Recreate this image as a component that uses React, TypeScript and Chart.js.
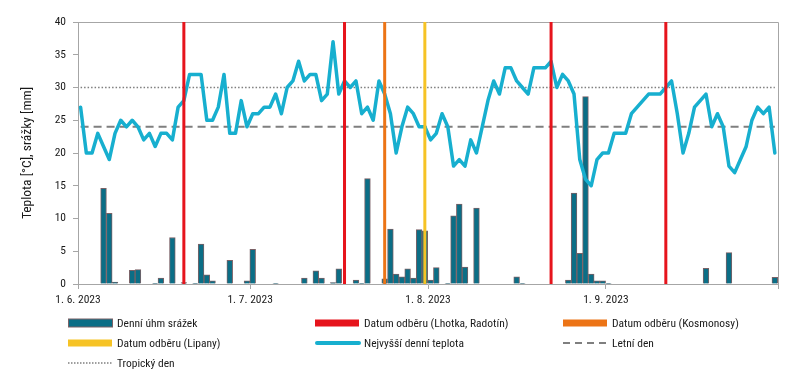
import React, { useEffect, useRef } from 'react';
import { Chart, registerables } from 'chart.js';

Chart.register(...registerables);

// ---------- data ----------
const START_DATE = '2023-06-01';

// Nejvyšší denní teplota [°C], 1. 6. – 30. 9. 2023
const dailyMaxTemp = [
  27, 20, 20, 23, 21, 19, 23, 25, 24, 25,
  24, 22, 23, 21, 23, 23, 22, 27, 28, 32,
  32, 32, 25, 25, 27, 32, 23, 23, 28, 24,
  26, 26, 27, 27, 29, 26, 30, 31, 34, 31,
  32, 32, 28, 29, 37, 29, 31, 30, 31, 26,
  27, 25, 31, 29, 26, 20, 24, 27, 26, 24,
  24, 22, 23, 26, 24, 18, 19, 18, 22, 20,
  24, 28, 31, 29, 33, 33, 31, 30, 29, 33,
  33, 33, 34, 30, 32, 31, 29, 19, 16, 15,
  19, 20, 20, 23, 23, 23, 26, 27, 28, 29,
  29, 29, 30, 31, 26, 20, 23, 27, 28, 29,
  24, 26, 24, 18, 17, 19, 21, 25, 27, 26,
  27, 20,
];

// Denní úhrn srážek [mm]
const dailyPrecip = [
  0, 0, 0, 0, 14.6, 10.8, 0.3, 0, 0, 2.1,
  2.2, 0, 0, 0.1, 0.9, 0, 7.1, 0, 0.2, 0,
  0.1, 6.1, 1.4, 0.5, 0, 0, 3.6, 0, 0, 0.5,
  5.3, 0, 0, 0, 0.1, 0, 0, 0, 0, 0.9,
  0, 2.0, 0.9, 0, 0.2, 2.3, 0, 0, 0.6, 0.1,
  16.1, 0, 0, 0.8, 8.4, 1.5, 1.1, 2.3, 0.9, 8.3,
  8.1, 0.6, 2.5, 0, 0.1, 10.4, 12.2, 2.6, 0, 11.6,
  0, 0, 0, 0, 0, 0, 1.1, 0.1, 0, 0,
  0, 0, 0, 0, 0, 0.6, 13.9, 4.7, 28.6, 1.5,
  0.5, 0.5, 0.1, 0, 0, 0, 0, 0, 0, 0,
  0, 0, 0, 0, 0, 0, 0, 0, 0, 2.4,
  0, 0, 0, 4.8, 0, 0, 0, 0, 0, 0,
  0, 1.0,
];

const samplingLhotkaRadotin = ['2023-06-19', '2023-07-17', '2023-08-22', '2023-09-11'];
const samplingKosmonosy = ['2023-07-24'];
const samplingLipany = ['2023-07-31'];

const summerDayLimit = 24;
const tropicalDayLimit = 30;

const xTickDays = [0, 30, 61, 92, 122];
const xTickLabels = ['1. 6. 2023', '1. 7. 2023', '1. 8. 2023', '1. 9. 2023', ''];

const Y_MIN = 0;
const Y_MAX = 40;
const Y_STEP = 5;

const LABELS = {
  precip: 'Denní úhm srážek',
  lhotka: 'Datum odběru (Lhotka, Radotín)',
  kosmonosy: 'Datum odběru (Kosmonosy)',
  lipany: 'Datum odběru (Lipany)',
  temp: 'Nejvyšší denní teplota',
  summer: 'Letní den',
  tropical: 'Tropický den',
};

// ---------- styles ----------
const FONT = "'Liberation Sans Narrow', 'Arial Narrow', 'Roboto Condensed', 'DejaVu Sans Condensed', sans-serif";
const C_BAR = '#0b6e86';
const C_BAR_BORDER = '#7a6166';
const C_RED = '#e6141c';
const C_ORANGE = '#ec7416';
const C_YELLOW = '#f6c325';
const C_TEMP = '#17afcf';
const C_GREY = '#7f7f7f';
const C_AXIS = '#a6a6a6';
const C_TEXT = '#1a1a1a';
const X_SHIFT = -0.45;

function dayIndex(iso: string): number {
  return Math.round((Date.parse(iso) - Date.parse(START_DATE)) / 86400000);
}

function verticalLines(dates: string[]) {
  const pts: any[] = [];
  dates.forEach((d) => {
    const k = dayIndex(d);
    pts.push({ x: k, y: Y_MIN }, { x: k, y: Y_MAX }, { x: k, y: null });
  });
  return pts;
}

const framePlugin = {
  id: 'frame',
  beforeDatasetsDraw(chart: any) {
    const { ctx, chartArea } = chart;
    const { left, top, right, bottom } = chartArea;
    ctx.save();
    ctx.strokeStyle = C_AXIS;
    ctx.lineWidth = 1;
    ctx.beginPath();
    ctx.moveTo(left, Math.round(top) + 0.5);
    ctx.lineTo(Math.round(right) + 0.5, Math.round(top) + 0.5);
    ctx.lineTo(Math.round(right) + 0.5, bottom);
    ctx.stroke();
    ctx.restore();
  },
};

function Swatch({ kind, color }: { kind: string; color: string }) {
  if (kind === 'bar') {
    return (
      <svg width={46} height={12} style={{ display: 'block' }}>
        <rect x={0.5} y={2} width={44} height={8} fill={color} stroke={C_BAR_BORDER} strokeWidth={1} />
      </svg>
    );
  }
  if (kind === 'rect') {
    return (
      <svg width={46} height={12} style={{ display: 'block' }}>
        <rect x={0} y={2.5} width={44} height={7} fill={color} />
      </svg>
    );
  }
  if (kind === 'line') {
    return (
      <svg width={46} height={12} style={{ display: 'block' }}>
        <line x1={2} y1={6} x2={44} y2={6} stroke={color} strokeWidth={4} strokeLinecap="round" />
      </svg>
    );
  }
  if (kind === 'dash') {
    return (
      <svg width={46} height={12} style={{ display: 'block' }}>
        <line x1={0} y1={6} x2={44} y2={6} stroke={color} strokeWidth={2} strokeDasharray="7 5" />
      </svg>
    );
  }
  return (
    <svg width={46} height={12} style={{ display: 'block' }}>
      <line x1={0} y1={6} x2={44} y2={6} stroke={color} strokeWidth={1.5} strokeDasharray="1.5 1.5" />
    </svg>
  );
}

const legendItems = [
  { label: LABELS.precip, kind: 'bar', color: C_BAR, col: 0, row: 0 },
  { label: LABELS.lhotka, kind: 'rect', color: C_RED, col: 1, row: 0 },
  { label: LABELS.kosmonosy, kind: 'rect', color: C_ORANGE, col: 2, row: 0 },
  { label: LABELS.lipany, kind: 'rect', color: C_YELLOW, col: 0, row: 1 },
  { label: LABELS.temp, kind: 'line', color: C_TEMP, col: 1, row: 1 },
  { label: LABELS.summer, kind: 'dash', color: C_GREY, col: 2, row: 1 },
  { label: LABELS.tropical, kind: 'dot', color: C_GREY, col: 0, row: 2 },
];
const LEGEND_COL_X = [68, 315, 563];
const LEGEND_ROW_Y = [323, 343, 363];

export default function App() {
  const ref = useRef<HTMLCanvasElement>(null);

  useEffect(() => {
    if (!ref.current) return;
    const lastDay = dailyMaxTemp.length - 1;
    const chart = new Chart(ref.current, {
      type: 'bar',
      data: {
        datasets: [
          {
            type: 'line',
            label: LABELS.lhotka,
            data: verticalLines(samplingLhotkaRadotin),
            borderColor: C_RED,
            borderWidth: 3,
            pointRadius: 0,
            spanGaps: false,
            order: 1,
          } as any,
          {
            type: 'line',
            label: LABELS.kosmonosy,
            data: verticalLines(samplingKosmonosy),
            borderColor: C_ORANGE,
            borderWidth: 3,
            pointRadius: 0,
            spanGaps: false,
            order: 1,
          },
          {
            type: 'line',
            label: LABELS.lipany,
            data: verticalLines(samplingLipany),
            borderColor: C_YELLOW,
            borderWidth: 3,
            pointRadius: 0,
            spanGaps: false,
            order: 1,
          },
          {
            type: 'line',
            label: LABELS.temp,
            data: dailyMaxTemp.map((v, i) => ({ x: i, y: v })),
            borderColor: C_TEMP,
            borderWidth: 3.5,
            borderJoinStyle: 'round',
            borderCapStyle: 'round',
            pointRadius: 0,
            tension: 0,
            order: 5,
          },
          {
            type: 'line',
            label: LABELS.summer,
            data: [
              { x: 0, y: summerDayLimit },
              { x: lastDay, y: summerDayLimit },
            ],
            borderColor: C_GREY,
            borderWidth: 2,
            borderDash: [8, 5],
            pointRadius: 0,
            order: 8,
          },
          {
            type: 'line',
            label: LABELS.tropical,
            data: [
              { x: 0, y: tropicalDayLimit },
              { x: lastDay, y: tropicalDayLimit },
            ],
            borderColor: C_GREY,
            borderWidth: 1.5,
            borderDash: [1.5, 2],
            pointRadius: 0,
            order: 8,
          },
          {
            type: 'bar',
            label: LABELS.precip,
            data: dailyPrecip.map((v, i) => ({ x: i, y: v > 0 ? v : null })),
            backgroundColor: C_BAR,
            borderColor: C_BAR_BORDER,
            borderWidth: 1,
            borderSkipped: 'bottom',
            barPercentage: 1,
            categoryPercentage: 1,
            order: 10,
          },
        ] as any,
      },
      options: {
        responsive: false,
        animation: false,
        events: [],
        layout: { padding: { left: 0, right: 22, top: 22, bottom: 0 } },
        plugins: {
          legend: { display: false },
          tooltip: { enabled: false },
        },
        scales: {
          x: {
            type: 'linear',
            offset: false,
            min: X_SHIFT,
            max: 122 + X_SHIFT,
            afterBuildTicks: (scale: any) => {
              scale.ticks = xTickDays.map((d) => ({ value: d + X_SHIFT }));
            },
            afterFit: (scale: any) => {
              scale.height = 104;
            },
            ticks: {
              autoSkip: false,
              maxRotation: 0,
              minRotation: 0,
              padding: 4,
              color: C_TEXT,
              font: { family: FONT, size: 11.5 },
              callback: (_v: any, i: number) => xTickLabels[i],
            },
            grid: {
              display: true,
              drawOnChartArea: false,
              drawTicks: true,
              tickLength: 5,
              color: C_AXIS,
              offset: false,
            },
            border: { display: true, color: C_AXIS, width: 1 },
          },
          y: {
            type: 'linear',
            min: Y_MIN,
            max: Y_MAX,
            afterFit: (scale: any) => {
              scale.width = 78;
            },
            ticks: {
              stepSize: Y_STEP,
              padding: 7,
              color: C_TEXT,
              font: { family: FONT, size: 11.5 },
            },
            grid: {
              display: true,
              drawOnChartArea: false,
              drawTicks: true,
              tickLength: 5,
              color: C_AXIS,
            },
            border: { display: true, color: C_AXIS, width: 1 },
            title: {
              display: true,
              text: 'Teplota [°C], srážky [mm]',
              color: C_TEXT,
              font: { family: FONT, size: 13.5 },
              padding: { top: 20, bottom: 0 },
            },
          },
        },
      },
      plugins: [framePlugin],
    } as any);
    return () => chart.destroy();
  }, []);

  return (
    <div
      style={{
        position: 'fixed',
        left: 0,
        top: 0,
        width: 800,
        height: 388,
        background: '#fff',
        fontFamily: FONT,
        overflow: 'hidden',
      }}
    >
      <canvas
        ref={ref}
        width={800}
        height={388}
        style={{ position: 'absolute', left: 0, top: 0, width: 800, height: 388 }}
      />
      {legendItems.map((it) => (
        <div
          key={it.label}
          style={{
            position: 'absolute',
            left: LEGEND_COL_X[it.col],
            top: LEGEND_ROW_Y[it.row] - 8,
            height: 16,
            display: 'flex',
            alignItems: 'center',
            whiteSpace: 'nowrap',
            fontSize: 11.5,
            color: C_TEXT,
          }}
        >
          <Swatch kind={it.kind} color={it.color} />
          <span style={{ marginLeft: 3, lineHeight: '16px' }}>{it.label}</span>
        </div>
      ))}
    </div>
  );
}
